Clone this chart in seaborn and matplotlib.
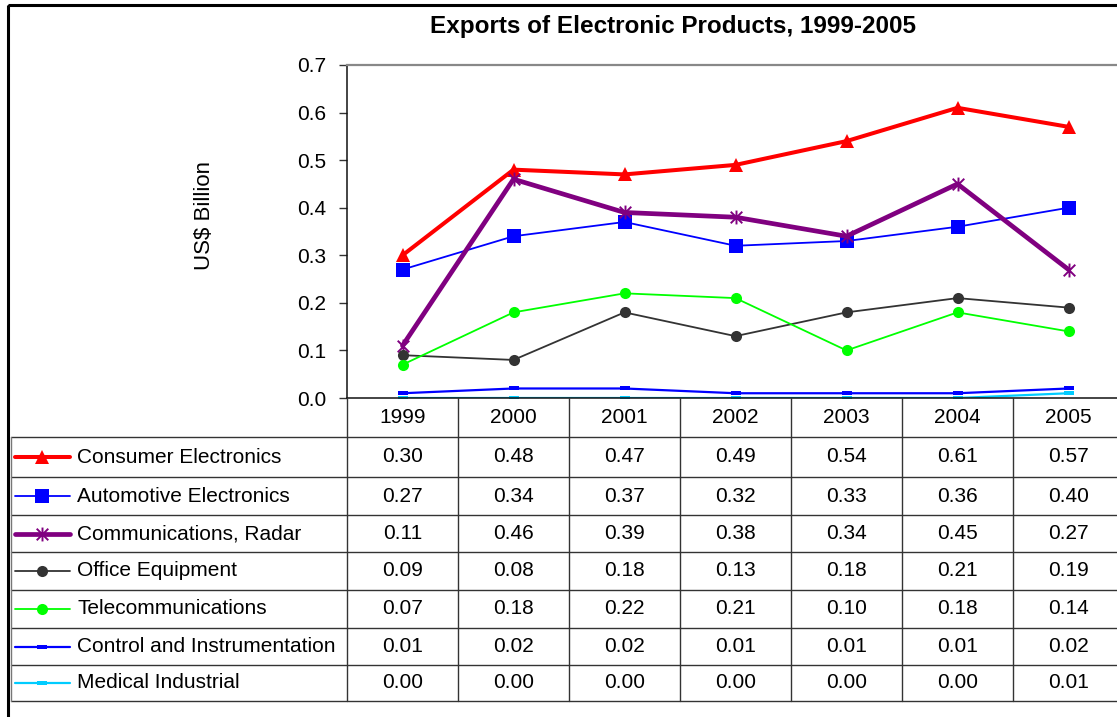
import numpy as np
import pandas as pd
import matplotlib
matplotlib.use("Agg")
import matplotlib.pyplot as plt
from matplotlib.lines import Line2D
from matplotlib.patches import Rectangle
from matplotlib.path import Path
from matplotlib.transforms import Affine2D, blended_transform_factory
import seaborn as sns

# ---- data (US$ billion) ----
years = ["1999", "2000", "2001", "2002", "2003", "2004", "2005"]
series_names = [
    "Consumer Electronics",
    "Automotive Electronics",
    "Communications, Radar",
    "Office Equipment",
    "Telecommunications",
    "Control and Instrumentation",
    "Medical Industrial",
]
consumer = [0.30, 0.48, 0.47, 0.49, 0.54, 0.61, 0.57]
automotive = [0.27, 0.34, 0.37, 0.32, 0.33, 0.36, 0.40]
communications = [0.11, 0.46, 0.39, 0.38, 0.34, 0.45, 0.27]
office = [0.09, 0.08, 0.18, 0.13, 0.18, 0.21, 0.19]
telecom = [0.07, 0.18, 0.22, 0.21, 0.10, 0.18, 0.14]
control = [0.01, 0.02, 0.02, 0.01, 0.01, 0.01, 0.02]
medical = [0.00, 0.00, 0.00, 0.00, 0.00, 0.00, 0.01]
series_values = [consumer, automotive, communications, office, telecom, control, medical]

# ---- marker shapes ----
dash = [(-1, -0.45), (1, -0.45), (1, 0.45), (-1, 0.45), (-1, -0.45)]
star = Path([(-1, -1), (1, 1), (-1, 1), (1, -1), (0, -1.2), (0, 1.2)],
            [Path.MOVETO, Path.LINETO, Path.MOVETO, Path.LINETO, Path.MOVETO, Path.LINETO])

styles = [
    dict(color="#FF0000", marker="^", lw=2.9, ms=10, mew=0),
    dict(color="#0000FF", marker="s", lw=1.3, ms=10, mew=0),
    dict(color="#800080", marker=star, lw=3.4, ms=10, mew=1.4),
    dict(color="#333333", marker="o", lw=1.3, ms=8, mew=0),
    dict(color="#00FF00", marker="o", lw=1.3, ms=8, mew=0),
    dict(color="#0000FF", marker=dash, lw=1.6, ms=7, mew=0),
    dict(color="#00CCFF", marker=dash, lw=1.6, ms=7, mew=0),
]

sns.set_theme(style="white")
plt.rcParams["font.family"] = ["Liberation Sans", "DejaVu Sans"]
plt.rcParams.update({"text.color": "black", "axes.labelcolor": "black",
                     "xtick.color": "black", "ytick.color": "black"})
FS = 15

W, H = 1117, 717
fig = plt.figure(figsize=(W / 100, H / 100), dpi=100)
fig.patch.set_facecolor("white")

# pixel transform (origin top-left)
pix = Affine2D().scale(1 / W, -1 / H).translate(0, 1) + fig.transFigure

ax_left, ax_top, ax_bottom, col_w = 347, 65, 398, 111
ax = fig.add_axes([ax_left / W, (H - ax_bottom) / H, 7 * col_w / W, (ax_bottom - ax_top) / H])

x = np.arange(len(years))
for vals, st in zip(series_values, styles):
    sns.lineplot(x=x, y=vals, ax=ax, color=st["color"], marker=st["marker"],
                 linewidth=st["lw"], markersize=st["ms"], markeredgewidth=st["mew"],
                 markeredgecolor=st["color"], markerfacecolor=st["color"],
                 legend=False, estimator=None)

ax.set_xlim(-0.5, len(years) - 0.5)
ax.set_ylim(0, 0.7)
ax.set_yticks(np.arange(0, 0.71, 0.1))
ax.set_yticklabels([f"{v:.1f}" for v in np.arange(0, 0.71, 0.1)], fontsize=FS, color="black")
ax.set_xticks([])
ax.set_xlabel("")
ax.tick_params(axis="y", which="major", left=True, length=6, width=1, color="#333333", pad=9)
for side in ("left", "bottom"):
    ax.spines[side].set_color("#111111")
    ax.spines[side].set_linewidth(1.1)
ax.spines["top"].set_color("#888888")
ax.spines["top"].set_linewidth(1.6)
ax.spines["right"].set_visible(False)
ax.set_ylabel("US$ Billion", fontsize=FS + 1, labelpad=0, color="black")
ax.yaxis.set_label_coords(215 / W, (H - 216) / H, transform=fig.transFigure)

fig.text(673 / W, 1 - 27 / H, "Exports of Electronic Products, 1999-2005",
         ha="center", va="center", fontsize=17.5, fontweight="bold", color="black")

# outer chart border
fig.add_artist(Rectangle((8, 5), 1200, 800, transform=pix, fill=False,
                         edgecolor="black", linewidth=2.2))

# ---- data table ----
row_lines = [437, 477, 515, 552, 590, 628, 665, 701]
tbl = blended_transform_factory(ax.transData, pix)
line_kw = dict(color="#333333", linewidth=1.0)

for y in row_lines:
    fig.add_artist(Line2D([11, 1200], [y, y], transform=pix, **line_kw))
fig.add_artist(Line2D([10.5, 10.5], [row_lines[0], row_lines[-1]], transform=pix,
                      color="#777777", linewidth=1.0))
fig.add_artist(Line2D([ax_left, ax_left], [ax_bottom, row_lines[-1]], transform=pix, **line_kw))
for i in range(len(years)):
    fig.add_artist(Line2D([i + 0.5, i + 0.5], [ax_bottom, row_lines[-1]], transform=tbl, **line_kw))

for i, yr in enumerate(years):
    fig.text(i, (ax_bottom + row_lines[0]) / 2, yr, transform=tbl,
             ha="center", va="center", fontsize=FS, color="black")

for r, (name, vals, st) in enumerate(zip(series_names, series_values, styles)):
    yc = (row_lines[r] + row_lines[r + 1]) / 2
    fig.add_artist(Line2D([15, 70], [yc, yc], transform=pix, color=st["color"],
                          linewidth=st["lw"]))
    fig.add_artist(Line2D([42], [yc], transform=pix, color=st["color"], marker=st["marker"],
                          markersize=st["ms"], markeredgewidth=st["mew"],
                          markeredgecolor=st["color"], markerfacecolor=st["color"],
                          linestyle="none"))
    fig.text(77 / W, 1 - yc / H, name, ha="left", va="center", fontsize=FS, color="black")
    for i, v in enumerate(vals):
        fig.text(i, yc, f"{v:.2f}", transform=tbl, ha="center", va="center",
                 fontsize=FS, color="black")

fig.savefig("out.png", dpi=100)
